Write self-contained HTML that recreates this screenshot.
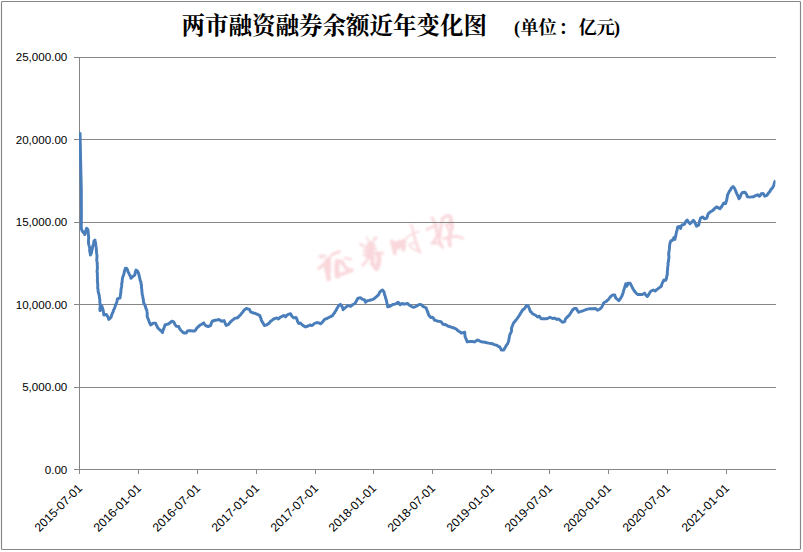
<!DOCTYPE html>
<html lang="zh"><head><meta charset="utf-8"><title>chart</title>
<style>html,body{margin:0;padding:0;background:#fff;}body{width:803px;height:552px;overflow:hidden;font-family:"Liberation Sans",sans-serif;}svg{display:block;}text{font-family:"Liberation Sans",sans-serif;fill:#000;}</style></head><body>
<svg width="803" height="552" viewBox="0 0 803 552">
<rect x="0" y="0" width="803" height="552" fill="#fff"/>
<rect x="1.5" y="1.5" width="799" height="548" rx="0.9" ry="0.9" fill="none" stroke="#868686" stroke-width="1.15"/>
<defs><filter id="wb" x="-5%" y="-5%" width="110%" height="110%"><feGaussianBlur stdDeviation="0.85"/></filter></defs><g fill="none" stroke="#F9D7DB" stroke-linecap="round" stroke-linejoin="round" filter="url(#wb)"><path d="M319.6 256.3L322.3 255.8L325.0 256.2" stroke-width="2.4"/><path d="M321.2 257.0L321.9 258.7" stroke-width="1.4"/><path d="M328.8 258.1L325.4 262.9L321.6 266.3L318.8 268.6" stroke-width="3.2"/><path d="M327.8 261.5L327.5 266.7L327.8 270.8" stroke-width="6.6"/><path d="M327.8 270.8L328.2 275.6L328.6 279.1" stroke-width="4.6"/><path d="M330.7 255.3L330.0 259.1" stroke-width="1.4"/><path d="M331.8 254.8L335.0 253.4L339.3 251.6" stroke-width="2.9"/><path d="M344.7 258.2L348.4 258.7L351.2 259.4" stroke-width="2.3"/><path d="M337.3 261.4L336.7 268.7L337.3 275.9" stroke-width="5.0"/><path d="M337.1 261.2L341.2 260.7" stroke-width="2.4"/><path d="M341.5 261.6L343.8 265.0L346.8 268.9L350.4 270.1" stroke-width="3.6"/><path d="M336.7 276.2L343.3 273.7L352.3 270.2" stroke-width="3.4"/><path d="M366.3 236.9L367.8 239.7L369.9 243.1" stroke-width="1.5"/><path d="M376.0 237.6L374.9 238.7" stroke-width="3.0"/><path d="M374.9 238.5L371.8 243.9" stroke-width="1.7"/><path d="M359.8 244.3L362.9 245.4L364.4 246.6" stroke-width="2.2"/><path d="M370.6 244.5L369.9 250.6L369.1 255.6" stroke-width="6.6"/><path d="M366.2 246.7L374.5 245.4" stroke-width="2.6"/><path d="M364.2 250.9L375.5 248.9" stroke-width="2.8"/><path d="M364.1 255.0L373.5 252.9L382.8 253.2" stroke-width="2.8"/><path d="M369.0 256.4L365.9 261.7L362.6 265.4" stroke-width="2.6"/><path d="M377.6 254.3L379.1 257.2L378.6 263.2L376.7 268.5" stroke-width="4.8"/><path d="M372.6 256.9L372.1 263.2L376.0 268.4" stroke-width="4.2"/><path d="M391.9 241.2L393.2 246.2L394.9 253.4" stroke-width="3.6"/><path d="M394.3 243.8L399.0 242.4L404.0 241.1" stroke-width="3.8"/><path d="M403.7 241.5L404.2 246.2L403.3 250.0" stroke-width="3.6"/><path d="M396.7 246.7L401.8 245.6" stroke-width="4.6"/><path d="M394.9 249.3L398.3 247.8" stroke-width="3.0"/><path d="M404.2 240.6L408.6 236.0L413.5 233.1L419.0 231.4" stroke-width="1.6"/><path d="M410.2 224.7L412.1 226.3L413.5 233.1" stroke-width="2.0"/><path d="M413.5 233.1L415.5 240.6L418.3 248.9L420.3 252.3" stroke-width="2.5"/><path d="M420.3 252.3L415.5 250.3L410.8 247.0L409.3 244.5L411.4 243.5L413.9 243.1" stroke-width="1.6"/><path d="M432.1 217.8L434.7 222.9L436.6 229.8L437.4 235.1" stroke-width="3.0"/><path d="M437.4 235.1L434.8 240.3L432.1 243.5" stroke-width="2.8"/><path d="M426.7 229.5L431.6 227.2L437.1 224.9" stroke-width="2.5"/><path d="M432.5 242.7L439.1 243.5L442.7 247.6" stroke-width="2.6"/><path d="M440.4 235.1L439.4 240.4L442.3 247.1" stroke-width="2.4"/><path d="M442.7 218.5L441.2 225.2L440.0 232.8L439.2 240.4" stroke-width="3.0"/><path d="M442.7 218.5L446.8 215.5L450.6 216.5L451.1 219.9L449.1 223.7L446.8 226.0" stroke-width="3.0"/><path d="M451.1 219.9L452.2 226.7L450.3 232.8L449.1 238.9L449.9 245.6" stroke-width="3.6"/><path d="M446.1 224.5L448.4 229.8L450.3 232.8" stroke-width="2.0"/><path d="M443.9 238.8L449.9 237.1L456.7 236.3L462.8 238.2" stroke-width="2.6"/></g>
<path d="M74.00 57.50H776.00M74.00 139.50H776.00M74.00 222.50H776.00M74.00 304.50H776.00M74.00 387.50H776.00M74.00 469.50H776.00M79.50 57.00V474.00M138.50 469.00V474.00M197.50 469.00V474.00M256.50 469.00V474.00M315.50 469.00V474.00M373.50 469.00V474.00M432.50 469.00V474.00M491.50 469.00V474.00M549.50 469.00V474.00M608.50 469.00V474.00M667.50 469.00V474.00M726.50 469.00V474.00" fill="none" stroke="#868686" stroke-width="1" shape-rendering="crispEdges"/>
<clipPath id="pc"><rect x="79" y="50" width="696.5" height="420"/></clipPath>
<path clip-path="url(#pc)" d="M80.00 132.30L80.60 160.00L81.30 189.00L81.40 215.00L81.25 228.25L81.86 230.22L82.90 232.00L84.02 233.10L84.75 234.50L85.28 232.63L85.75 230.75L86.60 228.25L87.90 229.50L88.12 231.06L88.23 232.62L88.28 234.19L88.50 235.75L88.69 237.31L88.60 238.88L88.48 240.44L88.50 242.00L88.57 243.72L88.99 245.37L89.50 247.00L89.86 248.60L89.58 250.27L89.86 251.88L90.25 253.48L90.40 255.10L91.22 253.64L91.60 252.00L91.89 250.43L92.33 248.89L92.48 247.29L92.90 245.75L93.44 244.12L93.73 242.42L94.10 240.75L95.00 240.10L95.29 242.32L95.75 244.50L95.96 246.25L96.29 247.98L96.35 249.74L96.43 251.50L96.60 253.25L96.97 254.84L96.97 256.45L96.92 258.07L96.70 259.69L96.94 261.29L97.28 262.89L97.25 264.50L97.32 266.03L97.47 267.55L97.29 269.08L97.09 270.62L97.15 272.14L97.43 273.67L97.29 275.20L97.42 276.72L97.50 278.25L97.29 280.09L97.59 281.92L97.60 283.75L97.86 285.24L97.69 286.76L97.73 288.26L98.12 289.74L98.10 291.25L98.42 292.81L98.95 294.33L99.29 295.89L99.40 297.50L99.68 298.99L99.95 300.48L99.74 302.02L100.05 303.50L100.25 305.00L100.22 306.87L99.87 308.72L100.00 310.60L100.62 309.14L101.13 307.64L101.90 306.25L102.40 307.67L102.88 309.10L103.10 310.60L103.61 312.77L103.75 315.00L106.25 314.40L107.50 316.25L108.34 317.74L108.75 319.40L110.12 318.27L111.25 316.90L111.61 315.14L112.27 313.49L113.10 311.90L113.51 310.15L114.42 308.59L115.00 306.90L115.50 305.18L116.21 303.54L116.90 301.90L117.11 300.31L117.50 298.75L120.00 298.10L120.18 296.56L120.50 295.05L120.57 293.50L121.00 292.00L120.90 290.31L121.16 288.65L121.50 287.00L121.73 285.41L121.66 283.78L122.13 282.21L122.20 280.60L122.39 278.94L122.68 277.31L123.30 275.75L123.98 273.66L124.40 271.50L124.86 269.86L125.40 268.25L126.60 268.25L127.46 269.74L127.90 271.40L129.10 273.90L129.85 275.30L130.57 276.71L131.00 278.25L132.90 276.40L134.75 275.10L135.10 273.42L135.58 271.76L136.00 270.10L137.25 270.75L138.50 273.25L138.99 274.90L139.36 276.58L139.75 278.25L140.15 280.35L141.00 282.30L141.00 283.86L141.56 285.36L141.52 286.92L141.59 288.48L141.90 290.00L141.91 291.52L142.10 293.02L142.17 294.53L142.78 295.98L142.75 297.50L143.33 299.32L143.42 301.23L143.75 303.10L144.79 304.94L145.60 306.90L145.80 308.42L146.69 309.73L146.90 311.25L147.24 312.79L147.20 314.37L147.13 315.96L147.50 317.50L148.33 319.34L149.00 321.25L149.76 323.14L150.60 325.00L151.92 324.15L153.10 323.10L155.60 323.10L156.00 324.67L157.02 325.97L157.50 327.50L158.69 328.81L160.00 330.00L161.43 331.07L162.50 332.50L162.88 330.54L163.75 328.75L164.37 326.87L165.00 325.00L166.87 324.35L168.75 323.75L170.31 322.49L171.90 321.25L173.75 321.90L175.00 324.50L176.25 326.25L178.75 326.50L179.47 328.36L180.60 330.00L181.89 331.21L183.10 332.50L184.62 333.07L186.25 333.10L187.50 331.00L189.03 330.67L190.60 330.60L192.48 330.95L194.40 331.00L195.83 329.81L196.70 328.12L198.10 326.90L199.50 325.43L201.25 324.40L203.75 322.90L204.57 324.32L205.60 325.60L208.10 326.50L210.60 325.60L211.05 324.11L211.55 322.64L212.25 321.25L215.00 320.25L216.92 320.11L218.75 319.50L220.19 320.27L221.50 321.25L224.00 320.60L224.78 322.18L225.34 323.87L226.25 325.40L227.69 324.84L229.00 324.00L230.24 322.13L231.90 320.60L233.47 319.38L235.00 318.10L236.58 317.97L238.10 317.50L239.00 316.12L240.33 315.11L241.25 313.75L242.64 312.29L243.75 310.60L244.89 309.42L246.25 308.50L247.83 308.92L249.40 309.40L250.60 311.90L252.02 312.51L253.49 312.98L255.00 313.30L257.50 314.40L260.00 315.60L260.22 317.12L261.06 318.47L261.25 320.00L262.07 321.61L263.10 323.10L264.40 325.60L266.02 325.17L267.50 324.40L269.22 322.99L270.60 321.25L272.21 320.17L273.75 319.00L275.32 318.44L276.90 317.90L278.50 319.00L280.60 316.90L282.27 316.36L283.75 315.40L285.60 316.90L286.66 315.46L288.10 314.40L290.60 313.75L291.90 316.25L293.75 317.90L296.00 317.50L296.97 319.29L297.50 321.25L298.75 323.50L300.60 323.10L301.77 324.43L303.10 325.60L305.60 326.90L308.10 326.00L310.00 325.00L311.90 325.60L313.16 324.56L314.40 323.50L316.90 322.50L319.40 323.10L320.60 323.75L322.01 322.66L323.10 321.25L325.00 319.10L326.97 318.53L328.75 317.50L330.63 316.56L332.50 315.60L333.34 314.27L334.40 313.10L335.15 311.52L336.27 310.14L336.90 308.50L337.85 307.06L338.75 305.60L340.40 304.40L341.90 306.25L342.72 307.92L343.10 309.75L345.00 308.00L346.26 306.91L347.50 305.80L349.08 305.85L350.60 306.25L352.50 304.75L355.00 303.50L355.93 301.74L356.90 300.00L358.10 298.10L360.60 297.75L362.50 299.40L364.40 299.75L365.60 302.25L367.50 300.60L369.07 300.42L370.60 300.00L372.22 299.63L373.75 299.00L375.00 297.95L376.25 296.90L377.57 295.72L378.75 294.40L379.44 292.69L380.60 291.25L382.50 290.00L384.00 291.90L384.30 293.38L384.64 294.86L385.25 296.25L385.54 297.96L386.15 299.58L386.60 301.25L386.91 303.15L387.54 304.98L387.75 306.90L390.00 306.25L391.52 305.27L393.10 304.40L394.75 304.20L396.25 303.50L398.10 302.25L399.12 303.45L400.00 304.75L401.90 303.50L403.41 304.01L405.00 304.00L407.50 303.50L408.76 304.54L410.00 305.60L411.50 306.52L413.10 307.25L414.73 306.93L416.25 306.25L418.75 304.75L420.60 304.40L422.03 305.29L423.10 306.60L424.78 307.14L426.25 308.10L426.66 309.76L427.50 311.25L428.01 313.16L428.75 315.00L429.69 316.24L430.60 317.50L432.50 317.25L433.62 318.51L434.40 320.00L436.23 320.68L438.10 321.25L439.71 321.40L441.25 321.90L442.15 323.17L443.10 324.40L444.72 324.48L446.25 325.00L447.71 325.99L449.40 326.50L451.23 327.19L453.10 327.75L454.72 328.27L456.25 329.00L457.39 330.25L458.75 331.25L460.11 332.02L461.25 333.10L463.75 332.50L464.75 332.25L464.89 334.25L465.00 336.25L465.58 337.84L466.25 339.40L467.25 341.90L470.00 341.50L472.22 341.52L474.40 341.90L475.96 340.96L477.50 340.00L479.08 340.69L480.60 341.50L482.77 342.08L485.00 342.25L486.86 342.75L488.75 343.10L490.95 343.42L493.10 344.00L494.93 344.83L496.90 345.25L498.19 346.30L499.75 346.90L500.54 348.43L501.25 350.00L503.75 350.00L504.57 348.38L505.60 346.90L506.29 345.35L507.42 344.05L508.10 342.50L508.71 340.66L509.00 338.75L509.35 337.18L509.60 335.60L510.16 333.99L511.00 332.50L511.57 330.68L511.39 328.73L511.90 326.90L512.69 325.40L513.10 323.75L513.99 322.45L515.00 321.25L516.31 319.72L517.50 318.10L518.74 316.25L520.00 314.40L520.73 312.88L521.78 311.53L522.50 310.00L524.40 308.75L525.49 307.17L526.60 305.60L528.10 305.80L528.75 307.27L529.40 308.75L530.25 311.25L531.55 312.34L532.50 313.75L534.05 314.50L535.60 315.25L537.50 316.90L539.40 316.25L540.17 317.61L541.25 318.75L542.83 318.69L544.40 318.75L545.97 318.82L547.50 318.50L550.00 317.25L552.50 318.50L554.40 318.10L556.90 319.40L558.75 319.00L560.60 320.60L562.50 322.25L564.40 321.90L565.03 320.34L565.60 318.75L567.50 316.90L569.40 315.00L571.00 312.50L572.50 310.00L574.40 308.50L576.25 308.50L577.50 310.60L578.75 312.25L581.25 311.25L582.86 310.87L584.40 310.25L585.93 309.62L587.50 309.10L589.04 308.84L590.60 308.75L592.17 308.81L593.75 308.75L595.60 308.50L597.50 310.25L600.00 309.00L601.90 306.90L603.10 304.40L604.00 302.50L606.25 301.50L607.27 300.34L608.50 299.40L610.00 297.25L611.22 296.09L612.50 295.00L614.75 295.00L615.18 296.57L615.75 298.10L617.36 299.31L618.90 300.60L620.23 298.80L621.40 296.90L622.12 295.48L622.63 293.96L623.25 292.50L623.46 290.97L624.00 289.54L624.50 288.10L624.83 286.63L625.47 285.24L625.75 283.75L626.75 286.25L627.61 284.77L628.00 283.10L630.10 283.10L631.40 285.60L632.18 287.19L633.00 288.75L634.01 290.35L635.10 291.90L636.25 293.25L637.60 294.40L640.10 294.40L642.60 294.40L644.50 293.10L645.75 295.00L647.25 296.50L648.90 294.40L649.74 292.77L650.75 291.25L653.25 290.00L655.10 291.00L657.00 289.40L658.30 288.52L659.50 287.50L661.40 286.25L661.76 284.30L662.60 282.50L663.90 280.00L665.75 280.25L666.51 278.32L666.75 276.25L667.22 274.72L667.38 273.15L667.31 271.55L667.60 270.00L667.58 268.32L667.80 266.66L668.11 265.01L667.94 263.31L668.41 261.67L668.50 260.00L668.86 258.52L668.93 257.02L668.79 255.50L668.63 253.98L668.86 252.49L669.10 251.00L669.33 249.38L669.50 247.76L669.53 246.12L669.75 244.50L670.19 242.61L670.90 240.80L672.30 240.60L673.17 239.06L674.00 237.50L675.00 239.40L675.19 237.80L675.63 236.25L675.93 234.67L676.25 233.10L676.59 231.54L677.17 230.04L677.34 228.44L677.75 226.90L679.40 226.50L680.60 228.50L681.12 226.70L681.90 225.00L684.40 224.40L685.14 222.79L686.00 221.25L687.25 220.00L688.75 222.50L690.00 223.75L691.90 221.90L693.50 220.25L694.44 221.58L695.00 223.10L695.83 224.64L696.50 226.25L698.75 225.00L698.96 223.51L699.34 222.05L699.75 220.60L700.60 218.10L702.50 216.90L704.40 218.75L706.50 218.30L707.35 216.57L707.80 214.70L708.75 213.10L710.50 211.80L712.80 210.40L714.60 208.60L716.50 206.90L718.40 207.90L719.90 208.75L720.91 207.51L721.90 206.25L722.75 204.63L723.75 203.10L725.60 203.60L726.01 201.90L726.70 200.30L726.89 198.52L727.34 196.78L727.50 195.00L728.46 193.13L729.40 191.25L730.52 189.79L731.25 188.10L733.10 186.50L734.40 188.10L735.60 190.60L736.13 192.22L736.90 193.75L737.57 195.43L738.40 197.04L739.00 198.75L740.04 197.30L740.60 195.60L741.33 193.91L742.50 192.50L745.00 192.25L746.50 194.40L747.50 196.90L750.00 197.10L751.54 196.88L753.10 196.90L755.60 195.60L757.50 194.75L759.40 196.25L760.50 195.13L761.25 193.75L763.10 193.50L764.09 194.78L764.75 196.25L766.90 195.40L767.73 194.01L768.75 192.75L769.86 191.50L770.60 190.00L772.50 187.75L773.75 185.60L774.20 183.74L774.70 181.90L775.90 180.60" fill="none" stroke="#4A7EBB" stroke-width="2.95" stroke-linejoin="round" stroke-linecap="butt"/>
<text x="67.3" y="60.80" font-size="11.60" text-anchor="end">25,000.00</text>
<text x="67.3" y="143.90" font-size="11.60" text-anchor="end">20,000.00</text>
<text x="67.3" y="225.80" font-size="11.60" text-anchor="end">15,000.00</text>
<text x="67.3" y="308.90" font-size="11.60" text-anchor="end">10,000.00</text>
<text x="67.3" y="390.80" font-size="11.60" text-anchor="end">5,000.00</text>
<text x="67.3" y="473.90" font-size="11.60" text-anchor="end">0.00</text>
<text transform="translate(83.00 488.90) rotate(-45)" font-size="12.06" text-anchor="end">2015-07-01</text>
<text transform="translate(142.00 488.90) rotate(-45)" font-size="12.06" text-anchor="end">2016-01-01</text>
<text transform="translate(201.00 488.90) rotate(-45)" font-size="12.06" text-anchor="end">2016-07-01</text>
<text transform="translate(260.00 488.90) rotate(-45)" font-size="12.06" text-anchor="end">2017-01-01</text>
<text transform="translate(319.00 488.90) rotate(-45)" font-size="12.06" text-anchor="end">2017-07-01</text>
<text transform="translate(377.00 488.90) rotate(-45)" font-size="12.06" text-anchor="end">2018-01-01</text>
<text transform="translate(436.00 488.90) rotate(-45)" font-size="12.06" text-anchor="end">2018-07-01</text>
<text transform="translate(495.00 488.90) rotate(-45)" font-size="12.06" text-anchor="end">2019-01-01</text>
<text transform="translate(553.00 488.90) rotate(-45)" font-size="12.06" text-anchor="end">2019-07-01</text>
<text transform="translate(612.00 488.90) rotate(-45)" font-size="12.06" text-anchor="end">2020-01-01</text>
<text transform="translate(671.00 488.90) rotate(-45)" font-size="12.06" text-anchor="end">2020-07-01</text>
<text transform="translate(730.00 488.90) rotate(-45)" font-size="12.06" text-anchor="end">2021-01-01</text>
<g fill="#000"><text x="181.6 205.1 228.6 252.1 275.6 299.1 322.6 346.1 369.6 393.1 416.6 440.1 463.6" y="33.6" font-size="23.5" style="font-family:'Liberation Serif','Noto Serif CJK SC',serif;font-weight:bold">两市融资融券余额近年变化图</text><text x="520.2 538.5 558.5 578.6 596.5" y="33.9" font-size="18.3" style="font-family:'Liberation Serif','Noto Serif CJK SC',serif;font-weight:bold">单位：亿元</text><text x="513.95" y="33.6" font-size="18.0" style="font-family:'Liberation Serif',serif;font-weight:bold">(</text><text x="614.0" y="33.6" font-size="18.0" style="font-family:'Liberation Serif',serif;font-weight:bold">)</text></g>
</svg></body></html>
